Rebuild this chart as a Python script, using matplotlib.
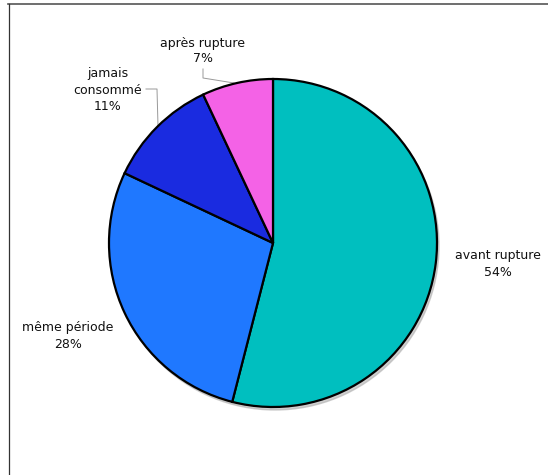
import matplotlib.pyplot as plt
from matplotlib.lines import Line2D
from matplotlib.patches import Circle

labels = ["avant rupture", "même période", "jamais\nconsommé", "après rupture"]
values = [54, 28, 11, 7]
colors = ["#00BFBF", "#1F78FF", "#1A2BE0", "#F462E6"]

W, H = 548, 475
fig = plt.figure(figsize=(W / 100, H / 100), dpi=100)
ax = fig.add_axes([0, 0, 1, 1])

cx, cy, r = 273, H - 243, 164

# soft shadow under the pie
ax.add_patch(Circle((cx + 2, cy - 3), r, color="#b0b0b0", alpha=0.6, zorder=1))
ax.pie(values, colors=colors, startangle=90, counterclock=False,
       center=(cx, cy), radius=r, frame=True,
       wedgeprops=dict(edgecolor="black", linewidth=1.6, zorder=2))
ax.set_xlim(0, W)
ax.set_ylim(0, H)
ax.set_aspect("equal")
ax.axis("off")

# labels
lab_pos = [(498, 264), (68, 336), (108, 90), (203, 51)]
for lab, v, (x, y) in zip(labels, values, lab_pos):
    ax.text(x, H - y, f"{lab}\n{v}%", ha="center", va="center",
            fontsize=9, linespacing=1.3, color="#111111")

# leader lines
ax.plot([203, 203, 234], [H - 69, H - 78, H - 83], color="#999999", lw=0.7, zorder=0.5)
ax.plot([146, 157, 158], [H - 89, H - 89, H - 126], color="#999999", lw=0.7, zorder=0.5)

# frame lines
fig.add_artist(Line2D([8 / W, 1], [1 - 4 / H, 1 - 4 / H], color="#555555", lw=1.2))
fig.add_artist(Line2D([9 / W, 9 / W], [0, 1 - 4 / H], color="#333333", lw=0.9))

fig.savefig("out.png", dpi=100)
